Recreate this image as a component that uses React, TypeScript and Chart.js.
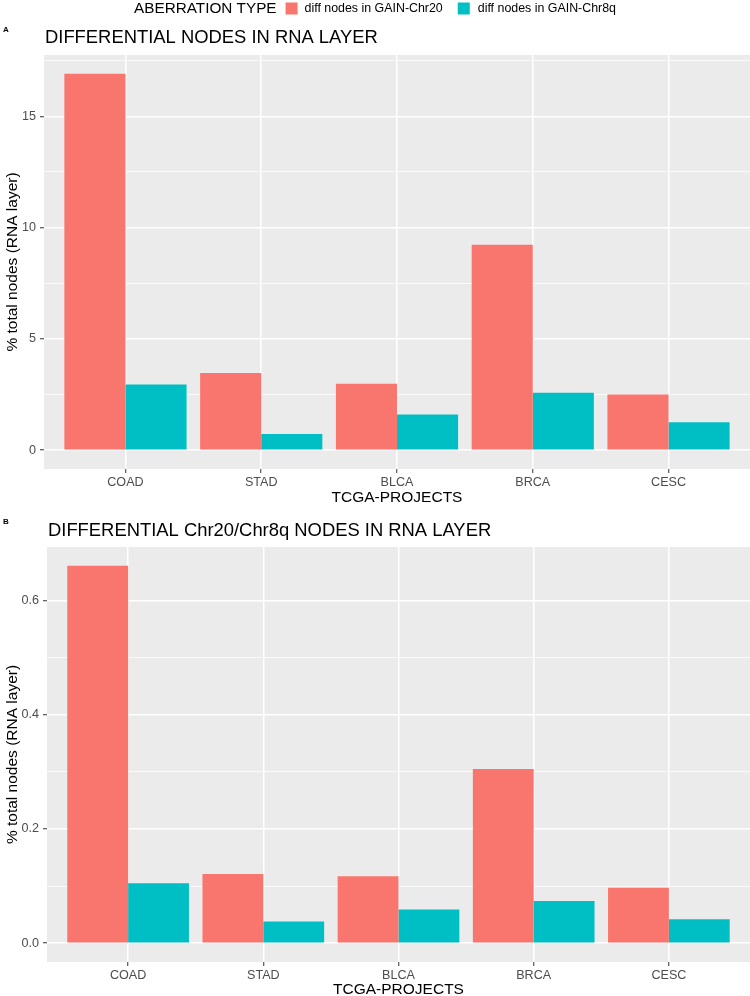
import React, { useEffect, useRef } from 'react';
import { Chart, registerables } from 'chart.js';

Chart.register(...registerables);

const FAMILY = '"Liberation Sans", Arial, Helvetica, sans-serif';

// Projects on the x axis
const projects = ['COAD', 'STAD', 'BLCA', 'BRCA', 'CESC'];

// Panel A: % of all RNA-layer nodes that are differential
const allNodesChr20 = [16.91, 3.47, 2.99, 9.23, 2.5];
const allNodesChr8q = [2.95, 0.73, 1.6, 2.58, 1.26];

// Panel B: % of RNA-layer nodes that are differential and located on Chr20 / Chr8q
const armNodesChr20 = [0.661, 0.121, 0.117, 0.305, 0.097];
const armNodesChr8q = [0.105, 0.038, 0.059, 0.074, 0.042];

const seriesLabels = ['diff nodes in GAIN-Chr20', 'diff nodes in GAIN-Chr8q'];
const seriesColors = ['#F8766D', '#00BFC4'];
const legendTitle = 'ABERRATION TYPE';

const titleA = 'DIFFERENTIAL NODES IN RNA LAYER';
const titleB = 'DIFFERENTIAL Chr20/Chr8q NODES IN RNA LAYER';
const xTitle = 'TCGA-PROJECTS';
const yTitle = '% total nodes (RNA layer)';

const majorTicksA = [0, 5, 10, 15];
const majorTicksB = [0, 0.2, 0.4, 0.6];

type PanelText = {
  title: string;
  titleBaseline: number;
  tag: string;
  tagBaseline: number;
  legend: boolean;
};

// grey panel background behind the grid
const panelBackground = {
  id: 'panelBackground',
  beforeDraw(chart: any) {
    const { ctx, chartArea } = chart;
    ctx.save();
    ctx.fillStyle = '#EBEBEB';
    ctx.fillRect(chartArea.left, chartArea.top, chartArea.right - chartArea.left, chartArea.bottom - chartArea.top);
    ctx.restore();
  },
};

// panel title, tag letter and (optionally) the shared legend row
const panelText = {
  id: 'panelText',
  afterDraw(chart: any, _args: any, opts: PanelText) {
    const { ctx, chartArea } = chart;
    ctx.save();
    ctx.fillStyle = '#000000';
    ctx.textBaseline = 'alphabetic';
    ctx.textAlign = 'left';

    ctx.font = `bold 8px ${FAMILY}`;
    ctx.fillText(opts.tag, 3, opts.tagBaseline);

    ctx.font = `18.4px ${FAMILY}`;
    ctx.fillText(opts.title, chartArea.left + 1, opts.titleBaseline);

    if (opts.legend) {
      const keySize = 12;
      const midY = 8.5;
      const titleFont = `15.3px ${FAMILY}`;
      const labelFont = `12.4px ${FAMILY}`;
      ctx.font = titleFont;
      const wTitle = ctx.measureText(legendTitle).width;
      ctx.font = labelFont;
      const wLabels = seriesLabels.map((l) => ctx.measureText(l).width);
      const total = wTitle + 9 + keySize + 7 + wLabels[0] + 15 + keySize + 8 + wLabels[1];
      let x = (chart.width - total) / 2;
      ctx.textBaseline = 'middle';
      ctx.font = titleFont;
      ctx.fillText(legendTitle, x, midY);
      x += wTitle + 9;
      ctx.font = labelFont;
      seriesLabels.forEach((label, i) => {
        ctx.fillStyle = seriesColors[i];
        ctx.fillRect(x, midY - keySize / 2, keySize, keySize);
        x += keySize + 7 + i;
        ctx.fillStyle = '#000000';
        ctx.fillText(label, x, midY);
        x += wLabels[i] + 15;
      });
    }
    ctx.restore();
  },
};

type PanelSpec = {
  chr20: number[];
  chr8q: number[];
  majors: number[];
  decimals: number;
  topPad: number;
  yWidth: number;
  xHeight: number;
  text: PanelText;
};

function makeConfig(spec: PanelSpec): any {
  const dataMax = Math.max(...spec.chr20, ...spec.chr8q);
  const yMin = -0.05 * dataMax;
  const yMax = 1.05 * dataMax;
  const step = spec.majors[1] - spec.majors[0];
  const minors = spec.majors
    .map((v) => v + step / 2)
    .concat([spec.majors[0] - step / 2])
    .filter((v) => v > yMin && v < yMax);
  const allTicks = spec.majors.concat(minors).sort((a, b) => a - b);
  const isMajor = (v: number) => spec.majors.some((m) => Math.abs(m - v) < 1e-9);

  return {
    type: 'bar',
    data: {
      datasets: [
        {
          label: seriesLabels[0],
          data: projects.map((_, i) => ({ x: i + 1, y: spec.chr20[i] })),
          backgroundColor: seriesColors[0],
          borderWidth: 0,
        },
        {
          label: seriesLabels[1],
          data: projects.map((_, i) => ({ x: i + 1, y: spec.chr8q[i] })),
          backgroundColor: seriesColors[1],
          borderWidth: 0,
        },
      ],
    },
    options: {
      responsive: false,
      animation: false,
      events: [],
      devicePixelRatio: 1,
      categoryPercentage: 0.9,
      barPercentage: 1.0,
      layout: { padding: { top: spec.topPad, left: 0, right: 0, bottom: 0 } },
      plugins: {
        legend: { display: false },
        tooltip: { enabled: false },
        title: { display: false },
        panelText: spec.text,
      },
      scales: {
        x: {
          type: 'linear',
          min: 0.4,
          max: 5.6,
          offset: false,
          afterBuildTicks: (s: any) => {
            s.ticks = projects.map((_, i) => ({ value: i + 1 }));
          },
          afterFit: (s: any) => {
            s.height = spec.xHeight;
          },
          ticks: {
            autoSkip: false,
            maxRotation: 0,
            padding: 2,
            color: '#4D4D4D',
            font: { family: FAMILY, size: 12.6 },
            callback: (v: number) => projects[Math.round(v) - 1] ?? '',
          },
          grid: {
            offset: false,
            color: '#FFFFFF',
            lineWidth: 1.5,
            drawTicks: true,
            tickLength: 4,
            tickWidth: 1,
            tickColor: '#333333',
          },
          border: { display: false },
          title: {
            display: true,
            text: xTitle,
            color: '#000000',
            font: { family: FAMILY, size: 15.5, lineHeight: 1.2 },
            padding: { top: 0, bottom: 1 },
          },
        },
        y: {
          type: 'linear',
          min: yMin,
          max: yMax,
          afterBuildTicks: (s: any) => {
            s.ticks = allTicks.map((v) => ({ value: v }));
          },
          afterFit: (s: any) => {
            s.width = spec.yWidth;
          },
          ticks: {
            autoSkip: false,
            padding: 4,
            color: '#4D4D4D',
            font: { family: FAMILY, size: 12.6 },
            callback: (v: number) => (isMajor(v) ? v.toFixed(spec.decimals) : ''),
          },
          grid: {
            color: '#FFFFFF',
            lineWidth: (ctx: any) => (ctx.tick && isMajor(ctx.tick.value) ? 1.5 : 0.75),
            drawTicks: true,
            tickLength: 4,
            tickWidth: 1,
            tickColor: (ctx: any) => (ctx.tick && isMajor(ctx.tick.value) ? '#333333' : 'rgba(0,0,0,0)'),
          },
          border: { display: false },
          title: {
            display: true,
            text: yTitle,
            color: '#000000',
            font: { family: FAMILY, size: 15.5, lineHeight: 1.2 },
            padding: { top: 3, bottom: 0 },
          },
        },
      },
    },
    plugins: [panelBackground, panelText],
  };
}

export default function App() {
  const refA = useRef<HTMLCanvasElement>(null);
  const refB = useRef<HTMLCanvasElement>(null);

  useEffect(() => {
    Chart.defaults.font.family = FAMILY;
    const chartA = new Chart(
      refA.current as HTMLCanvasElement,
      makeConfig({
        chr20: allNodesChr20,
        chr8q: allNodesChr8q,
        majors: majorTicksA,
        decimals: 0,
        topPad: 55,
        yWidth: 44,
        xHeight: 39,
        text: { title: titleA, titleBaseline: 43, tag: 'A', tagBaseline: 32, legend: true },
      })
    );
    const chartB = new Chart(
      refB.current as HTMLCanvasElement,
      makeConfig({
        chr20: armNodesChr20,
        chr8q: armNodesChr8q,
        majors: majorTicksB,
        decimals: 1,
        topPad: 39,
        yWidth: 47,
        xHeight: 38,
        text: { title: titleB, titleBaseline: 28, tag: 'B', tagBaseline: 16, legend: false },
      })
    );
    return () => {
      chartA.destroy();
      chartB.destroy();
    };
  }, []);

  return (
    <div
      style={{
        position: 'absolute',
        left: 0,
        top: 0,
        width: 750,
        height: 996,
        overflow: 'hidden',
        background: '#FFFFFF',
      }}
    >
      <canvas
        ref={refA}
        width={750}
        height={508}
        style={{ position: 'absolute', left: 0, top: 0, width: 750, height: 508 }}
      />
      <canvas
        ref={refB}
        width={750}
        height={492}
        style={{ position: 'absolute', left: 0, top: 508, width: 750, height: 492 }}
      />
    </div>
  );
}
